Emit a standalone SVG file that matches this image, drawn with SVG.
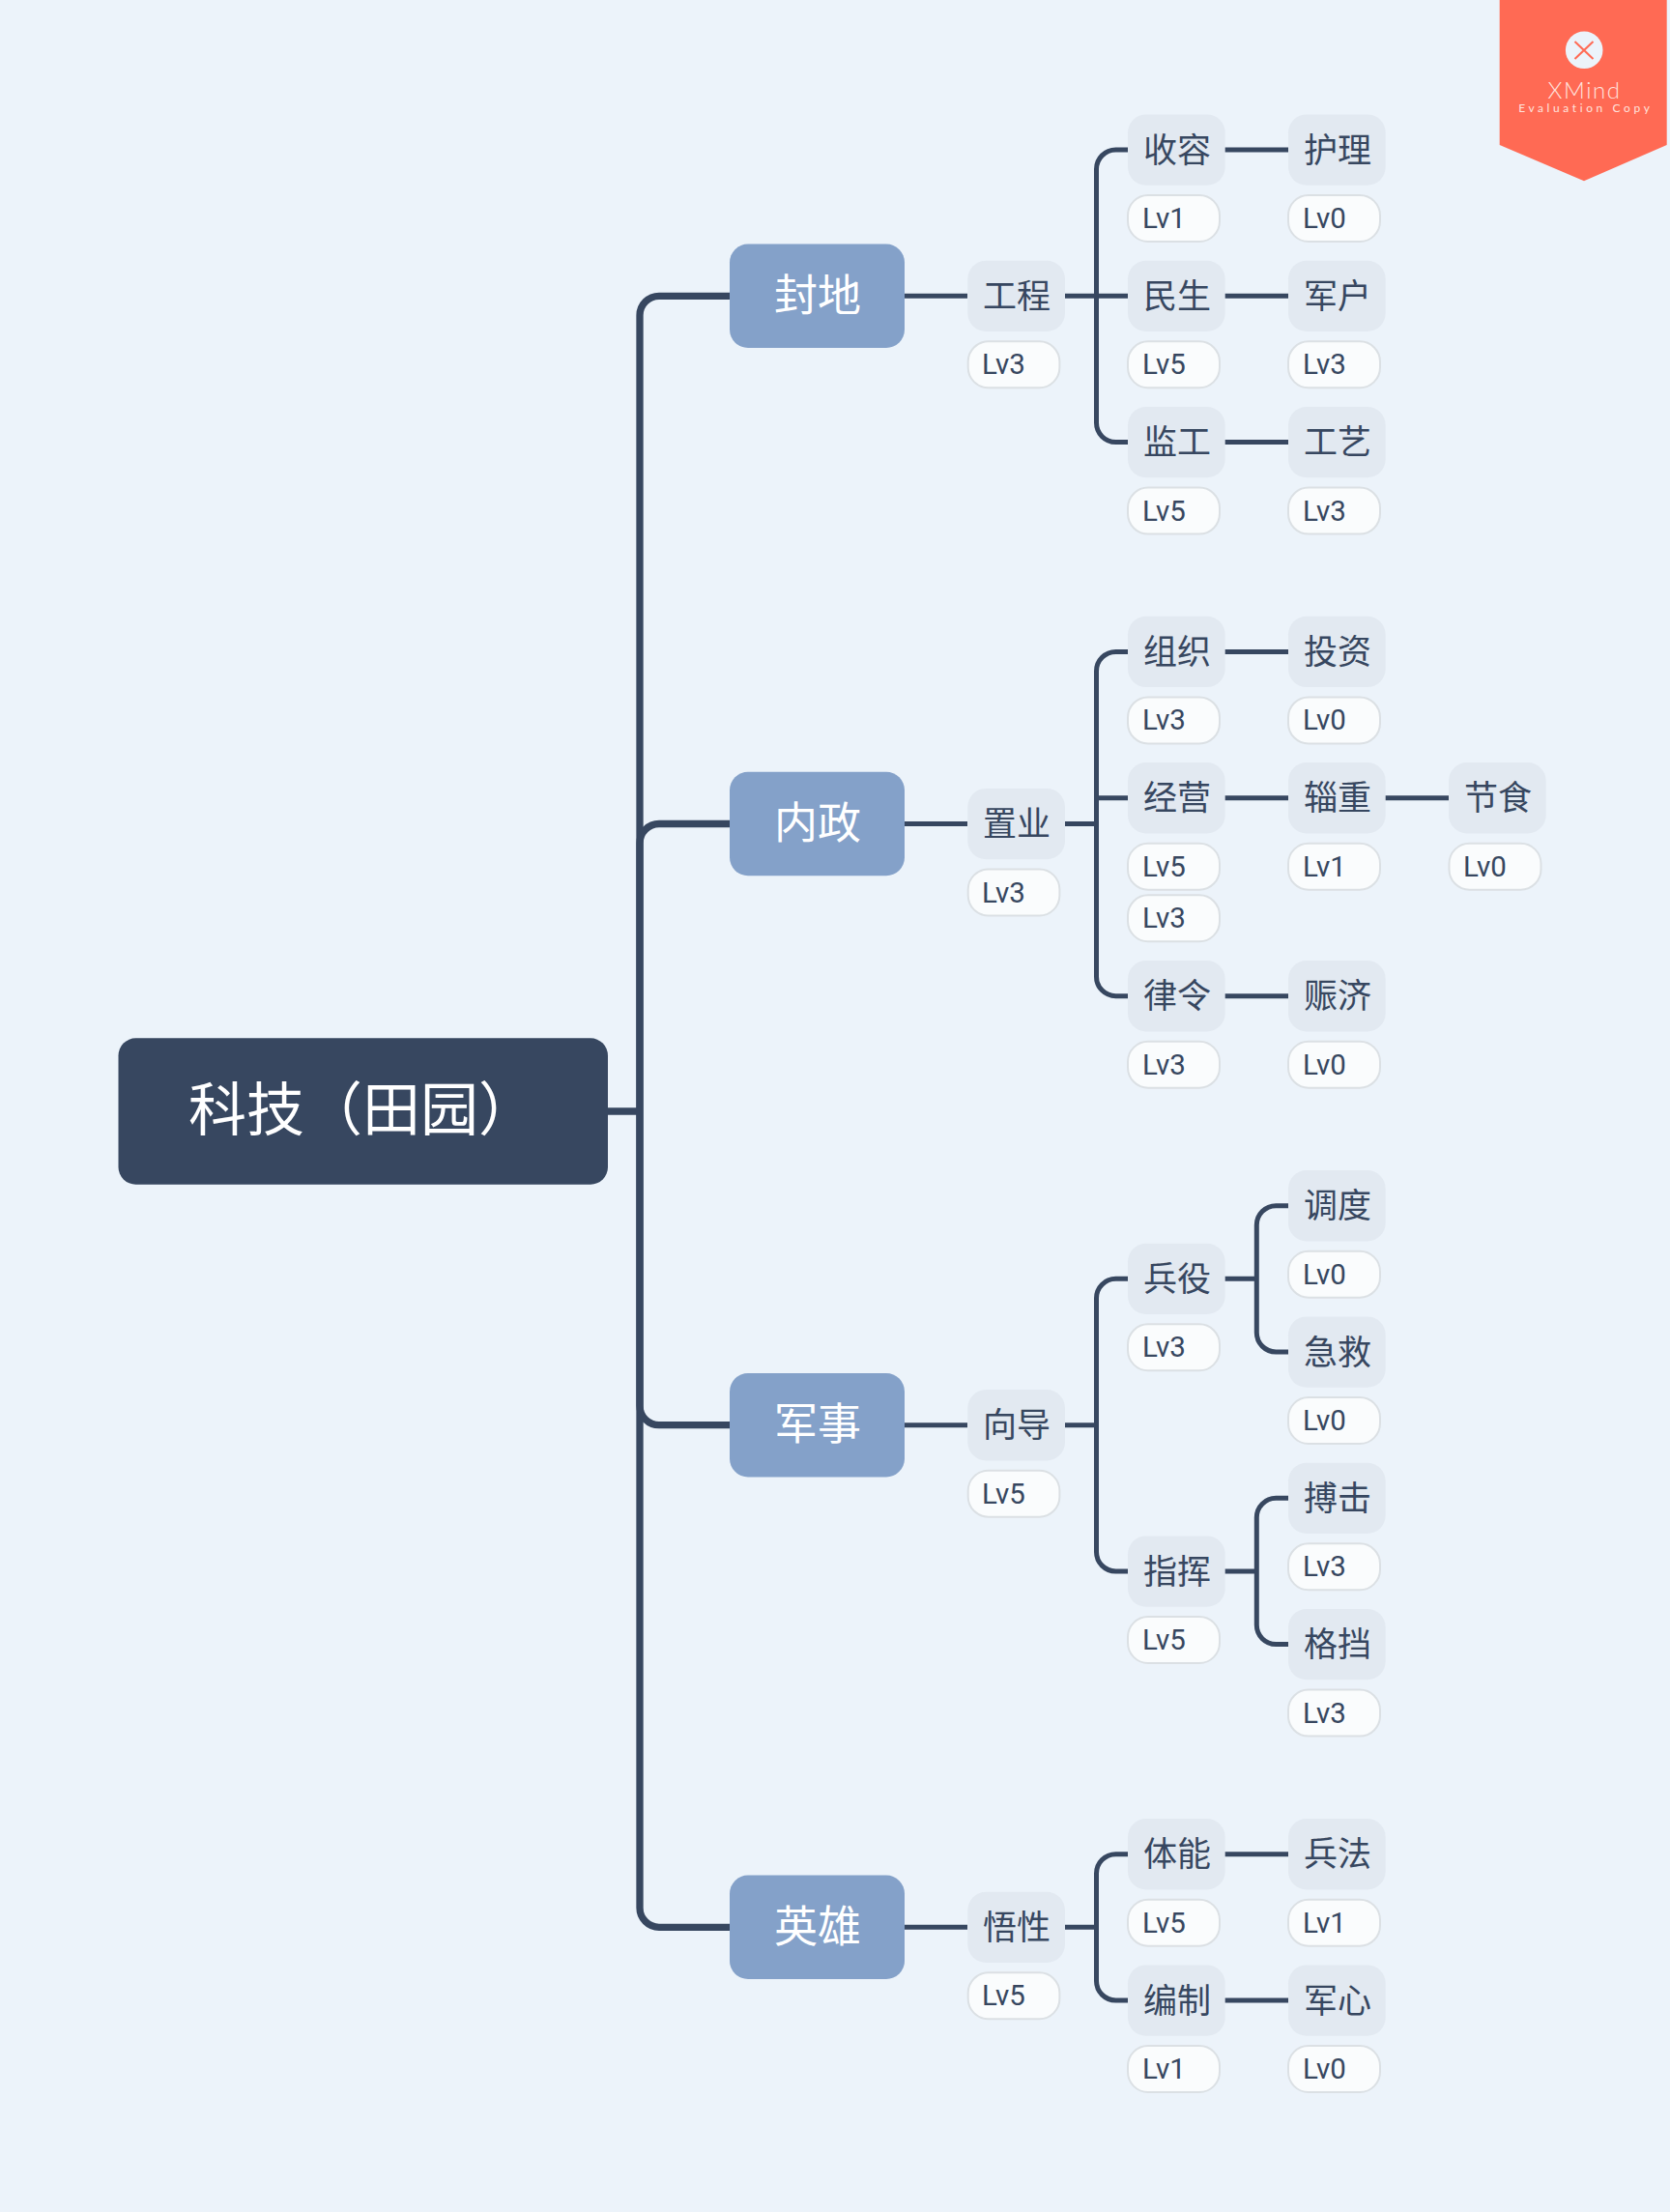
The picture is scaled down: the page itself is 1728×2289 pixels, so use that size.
<svg xmlns="http://www.w3.org/2000/svg" width="1728" height="2289" viewBox="0 0 1728 2289">
<defs><style>
.cjk{font-family:"Noto Sans CJK SC","Noto Sans",sans-serif}
.root rect{fill:#374760}
.root text{fill:#fff;font-size:60px}
.main rect{fill:#84a1c9}
.main text{fill:#fff;font-size:45px}
.sub rect{fill:#e2e9f1}
.sub text{fill:#374760;font-size:35px}
.lab rect{fill:#fafcfd;stroke:#dbe0e4;stroke-width:2}
.lab text{fill:#374760;font-size:29.500px;font-family:Roboto,"Liberation Sans",sans-serif}
#connectors path{fill:none;stroke:#374760;stroke-width:5}
#connectors path.thick{stroke-width:7.300}
</style></defs>
<rect width="1728" height="2289" fill="#ecf3fa"/>
<g id="connectors">
<path class="thick" d="M755 306.300H682A20 20 0 0 0 662 326.300V1974.300A20 20 0 0 0 682 1994.300H755"/>
<path class="thick" d="M629 1150H662M662 1150V872.500A20 20 0 0 1 682 852.500H755"/>
<path class="thick" d="M662 1150V1454.700A20 20 0 0 0 682 1474.700H755"/>
<path d="M936 306.300H1001M936 852.500H1001M936 1474.700H1001M936 1994.300H1001"/>
<path d="M1102 306.300H1167M1167 155H1154.500A20 20 0 0 0 1134.500 175V437.600A20 20 0 0 0 1154.500 457.600H1167"/>
<path d="M1102 852.500H1134.500M1167 674.400H1154.500A20 20 0 0 0 1134.500 694.400V1010.700A20 20 0 0 0 1154.500 1030.700H1167M1134.500 825.700H1167"/>
<path d="M1102 1474.700H1134.500M1167 1323.300H1154.500A20 20 0 0 0 1134.500 1343.300V1606A20 20 0 0 0 1154.500 1626H1167"/>
<path d="M1102 1994.300H1134.500M1167 1918.700H1154.500A20 20 0 0 0 1134.500 1938.700V2050A20 20 0 0 0 1154.500 2070H1167"/>
<path d="M1267 155H1333M1267 306.300H1333M1267 457.600H1333M1267 674.400H1333M1267 825.700H1333M1433 825.700H1499M1267 1030.700H1333M1267 1918.700H1333M1267 2070H1333"/>
<path d="M1267 1323.300H1300.300M1333 1247.700H1320.300A20 20 0 0 0 1300.300 1267.700V1379A20 20 0 0 0 1320.300 1399H1333"/>
<path d="M1267 1626H1300.300M1333 1550.300H1320.300A20 20 0 0 0 1300.300 1570.300V1681.600A20 20 0 0 0 1320.300 1701.600H1333"/>
</g>
<g id="root" class="root"><rect x="122.500" y="1074.300" width="506.500" height="151.400" rx="18"/><text class="cjk" x="195" y="1170">科技（田园）</text></g>
<g id="t1" class="main"><rect x="755" y="252.600" width="181" height="107.400" rx="19"/><text class="cjk" x="801" y="321.900">封地</text></g>
<g id="t2" class="main"><rect x="755" y="798.800" width="181" height="107.400" rx="19"/><text class="cjk" x="801" y="868.100">内政</text></g>
<g id="t3" class="main"><rect x="755" y="1421" width="181" height="107.400" rx="19"/><text class="cjk" x="801" y="1490.300">军事</text></g>
<g id="t4" class="main"><rect x="755" y="1940.600" width="181" height="107.400" rx="19"/><text class="cjk" x="801" y="2009.900">英雄</text></g>

<g id="n1" class="sub"><rect x="1001.300" y="269.700" width="100.700" height="73.300" rx="19"/><text class="cjk" x="1017" y="318.800">工程</text></g>
<g id="n1l" class="lab"><rect x="1001.700" y="353.300" width="94.700" height="48" rx="21"/><text x="1016" y="387.300">Lv3</text></g>
<g id="n2" class="sub"><rect x="1001.300" y="815.900" width="100.700" height="73.300" rx="19"/><text class="cjk" x="1017" y="865">置业</text></g>
<g id="n2l" class="lab"><rect x="1001.700" y="899.500" width="94.700" height="48" rx="21"/><text x="1016" y="933.500">Lv3</text></g>
<g id="n3" class="sub"><rect x="1001.300" y="1438.100" width="100.700" height="73.300" rx="19"/><text class="cjk" x="1017" y="1487.200">向导</text></g>
<g id="n3l" class="lab"><rect x="1001.700" y="1521.700" width="94.700" height="48" rx="21"/><text x="1016" y="1555.700">Lv5</text></g>
<g id="n4" class="sub"><rect x="1001.300" y="1957.700" width="100.700" height="73.300" rx="19"/><text class="cjk" x="1017" y="2006.800">悟性</text></g>
<g id="n4l" class="lab"><rect x="1001.700" y="2041.300" width="94.700" height="48" rx="21"/><text x="1016" y="2075.300">Lv5</text></g>

<g id="a1" class="sub"><rect x="1167" y="118.400" width="100.700" height="73.300" rx="19"/><text class="cjk" x="1183" y="167.500">收容</text></g>
<g id="a1l" class="lab"><rect x="1167" y="202" width="95" height="48" rx="21"/><text x="1182" y="236">Lv1</text></g>
<g id="a2" class="sub"><rect x="1167" y="269.700" width="100.700" height="73.300" rx="19"/><text class="cjk" x="1183" y="318.800">民生</text></g>
<g id="a2l" class="lab"><rect x="1167" y="353.300" width="95" height="48" rx="21"/><text x="1182" y="387.300">Lv5</text></g>
<g id="a3" class="sub"><rect x="1167" y="421" width="100.700" height="73.300" rx="19"/><text class="cjk" x="1183" y="470.100">监工</text></g>
<g id="a3l" class="lab"><rect x="1167" y="504.600" width="95" height="48" rx="21"/><text x="1182" y="538.600">Lv5</text></g>
<g id="a4" class="sub"><rect x="1167" y="637.800" width="100.700" height="73.300" rx="19"/><text class="cjk" x="1183" y="686.900">组织</text></g>
<g id="a4l" class="lab"><rect x="1167" y="721.400" width="95" height="48" rx="21"/><text x="1182" y="755.400">Lv3</text></g>
<g id="a5" class="sub"><rect x="1167" y="789.100" width="100.700" height="73.300" rx="19"/><text class="cjk" x="1183" y="838.200">经营</text></g>
<g id="a5l" class="lab"><rect x="1167" y="872.700" width="95" height="48" rx="21"/><text x="1182" y="906.700">Lv5</text></g>
<g id="a5m" class="lab"><rect x="1167" y="926.300" width="95" height="48" rx="21"/><text x="1182" y="960.300">Lv3</text></g>
<g id="a6" class="sub"><rect x="1167" y="994.100" width="100.700" height="73.300" rx="19"/><text class="cjk" x="1183" y="1043.200">律令</text></g>
<g id="a6l" class="lab"><rect x="1167" y="1077.700" width="95" height="48" rx="21"/><text x="1182" y="1111.700">Lv3</text></g>
<g id="a7" class="sub"><rect x="1167" y="1286.700" width="100.700" height="73.300" rx="19"/><text class="cjk" x="1183" y="1335.800">兵役</text></g>
<g id="a7l" class="lab"><rect x="1167" y="1370.300" width="95" height="48" rx="21"/><text x="1182" y="1404.300">Lv3</text></g>
<g id="a8" class="sub"><rect x="1167" y="1589.400" width="100.700" height="73.300" rx="19"/><text class="cjk" x="1183" y="1638.500">指挥</text></g>
<g id="a8l" class="lab"><rect x="1167" y="1673" width="95" height="48" rx="21"/><text x="1182" y="1707">Lv5</text></g>
<g id="a9" class="sub"><rect x="1167" y="1882.100" width="100.700" height="73.300" rx="19"/><text class="cjk" x="1183" y="1931.200">体能</text></g>
<g id="a9l" class="lab"><rect x="1167" y="1965.700" width="95" height="48" rx="21"/><text x="1182" y="1999.700">Lv5</text></g>
<g id="a10" class="sub"><rect x="1167" y="2033.400" width="100.700" height="73.300" rx="19"/><text class="cjk" x="1183" y="2082.500">编制</text></g>
<g id="a10l" class="lab"><rect x="1167" y="2117" width="95" height="48" rx="21"/><text x="1182" y="2151">Lv1</text></g>

<g id="b1" class="sub"><rect x="1333" y="118.400" width="100.700" height="73.300" rx="19"/><text class="cjk" x="1349" y="167.500">护理</text></g>
<g id="b1l" class="lab"><rect x="1333" y="202" width="95" height="48" rx="21"/><text x="1348" y="236">Lv0</text></g>
<g id="b2" class="sub"><rect x="1333" y="269.700" width="100.700" height="73.300" rx="19"/><text class="cjk" x="1349" y="318.800">军户</text></g>
<g id="b2l" class="lab"><rect x="1333" y="353.300" width="95" height="48" rx="21"/><text x="1348" y="387.300">Lv3</text></g>
<g id="b3" class="sub"><rect x="1333" y="421" width="100.700" height="73.300" rx="19"/><text class="cjk" x="1349" y="470.100">工艺</text></g>
<g id="b3l" class="lab"><rect x="1333" y="504.600" width="95" height="48" rx="21"/><text x="1348" y="538.600">Lv3</text></g>
<g id="b4" class="sub"><rect x="1333" y="637.800" width="100.700" height="73.300" rx="19"/><text class="cjk" x="1349" y="686.900">投资</text></g>
<g id="b4l" class="lab"><rect x="1333" y="721.400" width="95" height="48" rx="21"/><text x="1348" y="755.400">Lv0</text></g>
<g id="b5" class="sub"><rect x="1333" y="789.100" width="100.700" height="73.300" rx="19"/><text class="cjk" x="1349" y="838.200">辎重</text></g>
<g id="b5l" class="lab"><rect x="1333" y="872.700" width="95" height="48" rx="21"/><text x="1348" y="906.700">Lv1</text></g>
<g id="b6" class="sub"><rect x="1333" y="994.100" width="100.700" height="73.300" rx="19"/><text class="cjk" x="1349" y="1043.200">赈济</text></g>
<g id="b6l" class="lab"><rect x="1333" y="1077.700" width="95" height="48" rx="21"/><text x="1348" y="1111.700">Lv0</text></g>
<g id="b7" class="sub"><rect x="1333" y="1211.100" width="100.700" height="73.300" rx="19"/><text class="cjk" x="1349" y="1260.200">调度</text></g>
<g id="b7l" class="lab"><rect x="1333" y="1294.700" width="95" height="48" rx="21"/><text x="1348" y="1328.700">Lv0</text></g>
<g id="b8" class="sub"><rect x="1333" y="1362.400" width="100.700" height="73.300" rx="19"/><text class="cjk" x="1349" y="1411.500">急救</text></g>
<g id="b8l" class="lab"><rect x="1333" y="1446" width="95" height="48" rx="21"/><text x="1348" y="1480">Lv0</text></g>
<g id="b9" class="sub"><rect x="1333" y="1513.700" width="100.700" height="73.300" rx="19"/><text class="cjk" x="1349" y="1562.800">搏击</text></g>
<g id="b9l" class="lab"><rect x="1333" y="1597.300" width="95" height="48" rx="21"/><text x="1348" y="1631.300">Lv3</text></g>
<g id="b10" class="sub"><rect x="1333" y="1665" width="100.700" height="73.300" rx="19"/><text class="cjk" x="1349" y="1714.100">格挡</text></g>
<g id="b10l" class="lab"><rect x="1333" y="1748.600" width="95" height="48" rx="21"/><text x="1348" y="1782.600">Lv3</text></g>
<g id="b11" class="sub"><rect x="1333" y="1882.100" width="100.700" height="73.300" rx="19"/><text class="cjk" x="1349" y="1931.200">兵法</text></g>
<g id="b11l" class="lab"><rect x="1333" y="1965.700" width="95" height="48" rx="21"/><text x="1348" y="1999.700">Lv1</text></g>
<g id="b12" class="sub"><rect x="1333" y="2033.400" width="100.700" height="73.300" rx="19"/><text class="cjk" x="1349" y="2082.500">军心</text></g>
<g id="b12l" class="lab"><rect x="1333" y="2117" width="95" height="48" rx="21"/><text x="1348" y="2151">Lv0</text></g>

<g id="c1" class="sub"><rect x="1499" y="789.100" width="100.700" height="73.300" rx="19"/><text class="cjk" x="1515" y="838.200">节食</text></g>
<g id="c1l" class="lab"><rect x="1499.500" y="872.700" width="95" height="48" rx="21"/><text x="1514" y="906.700">Lv0</text></g>

<g id="watermark">
<polygon points="1551.700,0 1724.700,0 1724.700,150 1639,187.300 1551.700,150" fill="#ff6a54"/>
<circle cx="1639.200" cy="51.800" r="19.300" fill="#ecf3fa"/>
<path d="M1629.500 43L1639 52L1648.500 43M1629.500 61L1639 52L1648.500 61" fill="none" stroke="#ff6a54" stroke-width="2"/>
<text x="1639.500" y="101.500" text-anchor="middle" font-family="Lato,sans-serif" font-weight="300" font-size="24" letter-spacing="1.500" fill="#ffe3de">XMind</text>
<text x="1640.800" y="116" text-anchor="middle" font-family="Lato,sans-serif" font-size="12" letter-spacing="3.600" fill="#ffe3de">Evaluation Copy</text>
</g>
</svg>
